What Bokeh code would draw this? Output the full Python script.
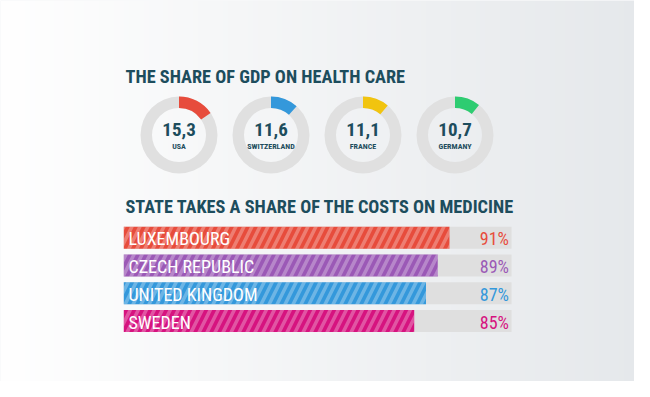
import numpy as np
from bokeh.plotting import figure
from bokeh.models import Range1d
from bokeh.core.properties import value
from bokeh.embed import file_html
from bokeh.resources import INLINE

# ---------------- data ----------------
gdp_countries = ["USA", "SWITZERLAND", "FRANCE", "GERMANY"]
gdp_values = [15.3, 11.6, 11.1, 10.7]
gdp_labels = ["15,3", "11,6", "11,1", "10,7"]
gdp_colors = ["#e74c3c", "#3498db", "#f1c40f", "#2ecc71"]

med_countries = ["LUXEMBOURG", "CZECH REPUBLIC", "UNITED KINGDOM", "SWEDEN"]
med_values = [91, 89, 87, 85]
med_labels = ["91%", "89%", "87%", "85%"]
med_colors = ["#e74c3c", "#9b59b6", "#3498db", "#d6137f"]

title1 = "THE SHARE OF GDP ON HEALTH CARE"
title2 = "STATE TAKES A SHARE OF THE COSTS ON MEDICINE"

# ---------------- layout ----------------
W, H = 634, 381
FONT = value("'Roboto Condensed', 'Liberation Sans Narrow', 'DejaVu Sans Condensed', Roboto")
DARK = "#1d4d5d"


def Y(py):
    return H - py


p = figure(width=W, height=H, output_backend="svg", toolbar_location=None,
           x_range=Range1d(0, W), y_range=Range1d(0, H), min_border=0)
p.axis.visible = False
p.grid.visible = False
p.outline_line_color = None
p.background_fill_color = "#f2f3f5"

# background horizontal gradient
n = 128
t = (np.arange(n) + 0.5) / n
tt = t * W / 650
c0 = np.array([255, 255, 255])
c1 = np.array([229, 232, 235])
cols = (c0[None, :] * (1 - tt[:, None]) + c1[None, :] * tt[:, None]).astype(np.uint32)
img = np.zeros((1, n), dtype=np.uint32)
view = img.view(dtype=np.uint8).reshape((1, n, 4))
view[0, :, 0] = cols[:, 0]
view[0, :, 1] = cols[:, 1]
view[0, :, 2] = cols[:, 2]
view[0, :, 3] = 255
p.image_rgba(image=[img], x=0, y=0, dw=W, dh=H)

# titles
p.text(x=[125], y=[Y(75.5)], text=[title1], text_font=FONT, text_font_size="18.3px",
       text_font_style="bold", text_color=DARK, text_baseline="alphabetic")
p.text(x=[125], y=[Y(205.5)], text=[title2], text_font=FONT, text_font_size="18.3px",
       text_font_style="bold", text_color=DARK, text_baseline="alphabetic")

# donuts
cx = [178.5 + 92 * i for i in range(len(gdp_values))]
cy = [Y(134.5)] * len(gdp_values)
R_OUT, R_IN = 38.5, 27
p.annulus(x=cx, y=cy, inner_radius=R_IN, outer_radius=R_OUT,
          fill_color="#e0e0e0", line_color=None)
starts = [np.pi / 2 - 2 * np.pi * v / 100 for v in gdp_values]
ends = [np.pi / 2] * len(gdp_values)
p.annular_wedge(x=cx, y=cy, inner_radius=R_IN, outer_radius=R_OUT,
                start_angle=starts, end_angle=ends, direction="anticlock",
                fill_color=gdp_colors, line_color=None)
p.text(x=cx, y=[Y(129)] * 4, text=gdp_labels, text_font=FONT, text_font_size="19px",
       text_font_style="bold", text_color=DARK, text_align="center",
       text_baseline="alphabetic")
p.text(x=cx, y=[Y(146)] * 4, text=gdp_countries, text_font=FONT, text_font_size="8px",
       text_font_style="bold", text_color=DARK, text_align="center", text_baseline="alphabetic")

# bars (own value scale)
K = 5.879          # px per percentage point
BAR_BASE = 35.6    # value at the bars' left edge
BAR_LEFT_PX = 123.3
TRACK_END = 101.55
start = BAR_BASE - BAR_LEFT_PX / K
p.extra_x_ranges = {"bar": Range1d(start, start + W / K)}

bar_y = [Y(237.2 + 27.8 * i) for i in range(len(med_values))]
p.hbar(y=bar_y, left=BAR_BASE, right=TRACK_END, height=22, x_range_name="bar",
       fill_color="#dfdfdf", line_color=None)
p.hbar(y=bar_y, left=BAR_BASE, right=med_values, height=22, x_range_name="bar",
       fill_color=med_colors, line_color=None,
       hatch_pattern="/", hatch_color="white", hatch_alpha=0.28,
       hatch_scale=16, hatch_weight=3.5)
p.text(x=[128] * 4, y=[y - 1 for y in bar_y], text=med_countries, text_font=FONT,
       text_font_size="18px", text_color="white", text_baseline="alphabetic")
p.text(x=[508.5] * 4, y=[y - 1 for y in bar_y], text=med_labels, text_font=FONT,
       text_font_size="18px", text_color=med_colors, text_align="right",
       text_baseline="alphabetic")

open("out.html", "w").write(file_html(p, INLINE))
